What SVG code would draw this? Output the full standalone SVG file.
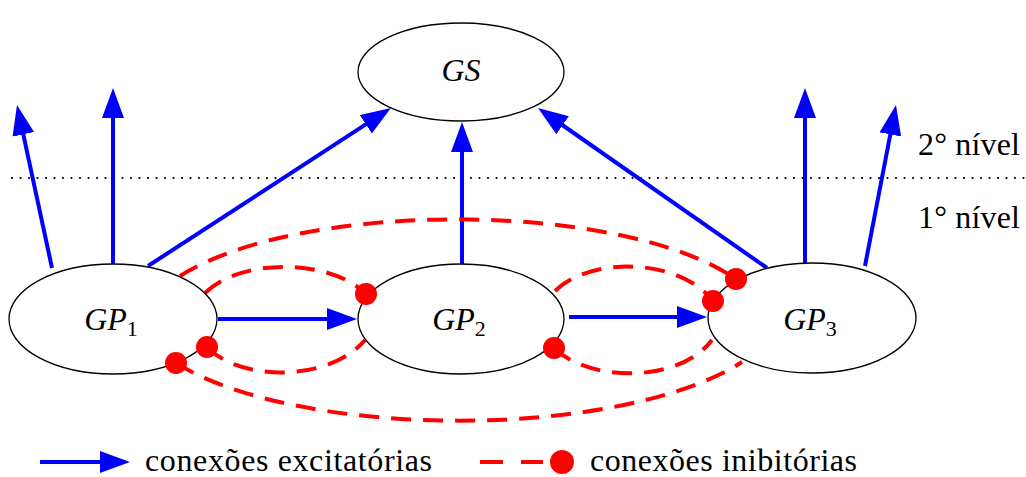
<svg xmlns="http://www.w3.org/2000/svg" width="1026" height="477" viewBox="0 0 1026 477">
<style>
.node{fill:#fff;stroke:#000;stroke-width:1.3}
.lbl{font-family:"Liberation Serif",serif;font-style:italic;font-size:32px;text-anchor:middle}
.txt{font-family:"Liberation Serif",serif;font-size:32px}
.exc{stroke:#0000ff;stroke-width:4;fill:none;marker-end:url(#ah)}
.inh{stroke:#ff0000;stroke-width:4;fill:none;stroke-dasharray:20 12}
.dot{fill:#ff0000}
</style>
<defs>
<marker id="ah" markerUnits="userSpaceOnUse" markerWidth="32" markerHeight="24" refX="10" refY="11" orient="auto" viewBox="0 0 32 24">
<path d="M0,0 L30,11 L0,22 z" fill="#0000ff"/>
</marker>
</defs>
<line x1="12" y1="178" x2="1026" y2="178" stroke="#000" stroke-width="2.2" stroke-linecap="round" stroke-dasharray="0 8.5"/>
<text class="txt" x="918" y="155" font-size="30" textLength="102">2° nível</text>
<text class="txt" x="918" y="228" font-size="30" textLength="102">1° nível</text>
<g id="connectors">
<line class="exc" x1="52" y1="268" x2="21.2" y2="124.6"/>
<line class="exc" x1="113" y1="264" x2="113" y2="108"/>
<line class="exc" x1="148" y1="266" x2="374.2" y2="118.9"/>
<line class="exc" x1="218" y1="319" x2="337" y2="319"/>
<line class="exc" x1="462" y1="264" x2="462" y2="142"/>
<line class="exc" x1="569" y1="317" x2="687" y2="317"/>
<line class="exc" x1="767" y1="268" x2="554.4" y2="119.5"/>
<line class="exc" x1="805" y1="265" x2="805" y2="108"/>
<line class="exc" x1="865" y1="266" x2="892.2" y2="124.6"/>
<path class="inh" d="M180,276 C300,200 620,200 736,279"/>
<path class="inh" d="M205,293 C240,258 330,258 366,294"/>
<path class="inh" d="M555,291 C590,256 680,258 713,301"/>
<path class="inh" d="M207,347 C240,382 330,382 365,340"/>
<path class="inh" d="M554,348 C590,383 680,383 712,340"/>
<path class="inh" d="M176,363 C300,440 620,440 742,362"/>
</g>
<g id="GS">
<ellipse class="node" cx="461" cy="72" rx="103" ry="49"/>
<text class="lbl" x="461" y="81">GS</text>
</g>
<g id="GP1">
<ellipse class="node" cx="113" cy="319" rx="104" ry="55"/>
<text class="lbl" x="111" y="330">GP<tspan font-size="22" font-style="normal" dy="6">1</tspan></text>
</g>
<g id="GP2">
<ellipse class="node" cx="461" cy="319" rx="103" ry="55"/>
<text class="lbl" x="459" y="330">GP<tspan font-size="22" font-style="normal" dy="6">2</tspan></text>
</g>
<g id="GP3">
<ellipse class="node" cx="812" cy="318" rx="104" ry="55"/>
<text class="lbl" x="810" y="330">GP<tspan font-size="22" font-style="normal" dy="6">3</tspan></text>
</g>
<g id="dots">
<circle class="dot" cx="736" cy="279" r="11"/>
<circle class="dot" cx="366" cy="294" r="11"/>
<circle class="dot" cx="713" cy="301" r="11"/>
<circle class="dot" cx="207" cy="347" r="11"/>
<circle class="dot" cx="554" cy="348" r="11"/>
<circle class="dot" cx="176" cy="363" r="11"/>
</g>
<g id="legend">
<line class="exc" x1="40" y1="462" x2="110" y2="462"/>
<text class="txt" x="145" y="471" textLength="287">conexões excitatórias</text>
<line x1="480" y1="462" x2="503" y2="462" stroke="#ff0000" stroke-width="4"/>
<line x1="521" y1="462" x2="543" y2="462" stroke="#ff0000" stroke-width="4"/>
<circle class="dot" cx="562" cy="462" r="12"/>
<text class="txt" x="590" y="471" textLength="267">conexões inibitórias</text>
</g>
</svg>
